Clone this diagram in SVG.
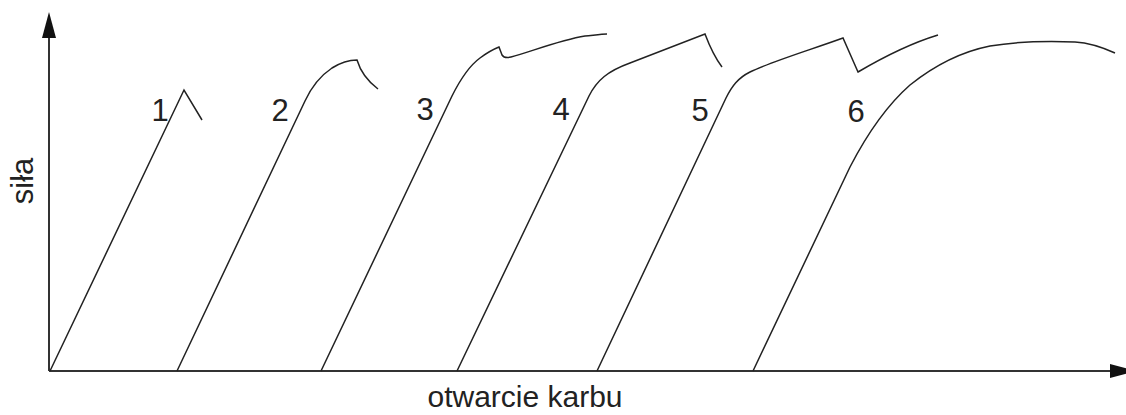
<svg xmlns="http://www.w3.org/2000/svg" width="1126" height="415" viewBox="0 0 1126 415">
<style>
.axis{stroke:#333;stroke-width:2;fill:none}
.curve{stroke:#222;stroke-width:1.5;fill:none;stroke-linejoin:miter}
.head{fill:#111}
text{font-family:"Liberation Sans",Arial,sans-serif;font-size:31px;fill:#222}
.xl{font-size:30px}
</style>
<rect width="1126" height="415" fill="#fff"/>
<g id="axes">
<line class="axis" x1="49" y1="371" x2="1112" y2="371"/>
<line class="axis" x1="49" y1="371" x2="49" y2="36"/>
<polygon class="head" points="42,38 49,12 56,38"/>
<polygon class="head" points="1110,364 1136,371 1110,378"/>
<text class="xl" x="525" y="407" text-anchor="middle">otwarcie karbu</text>
<text transform="translate(33,181) rotate(-90)" text-anchor="middle">siła</text>
</g>
<g id="connectors">
<path id="c1" class="curve" d="M50,371 L184,90 L202,120"/>
<path id="c2" class="curve" d="M177,371 L305,101 C311,88 320,76 332,68 C340,63 348,60 357,60 C360,70 366,80 378,89"/>
<path id="c3" class="curve" d="M321,371 L452,96 C460,80 469,66 480,58 C488,52 494,49 499,47 L502,55 C504,58 507,58 511,57 C530,52 560,40 585,36 C595,35 602,34 607,34"/>
<path id="c4" class="curve" d="M457,371 L589,96 C597,80 608,71 630,63 L705,34 C708,42 713,55 722,67"/>
<path id="c5" class="curve" d="M597,371 L726,98 C732,86 738,78 750,72 C770,62 810,50 843,38 L858,72 C875,62 905,45 938,35"/>
<path id="c6" class="curve" d="M753,371 L850,167 C865,138 885,107 910,85 C935,65 960,52 990,46 C1020,41 1050,41 1075,42 C1092,43 1104,48 1115,53"/>
</g>
<g id="labels">
<text id="l1" x="160" y="121" text-anchor="middle">1</text>
<text id="l2" x="280" y="121" text-anchor="middle">2</text>
<text id="l3" x="425" y="120" text-anchor="middle">3</text>
<text id="l4" x="561" y="120" text-anchor="middle">4</text>
<text id="l5" x="700" y="121" text-anchor="middle">5</text>
<text id="l6" x="856" y="122" text-anchor="middle">6</text>
</g>
</svg>
